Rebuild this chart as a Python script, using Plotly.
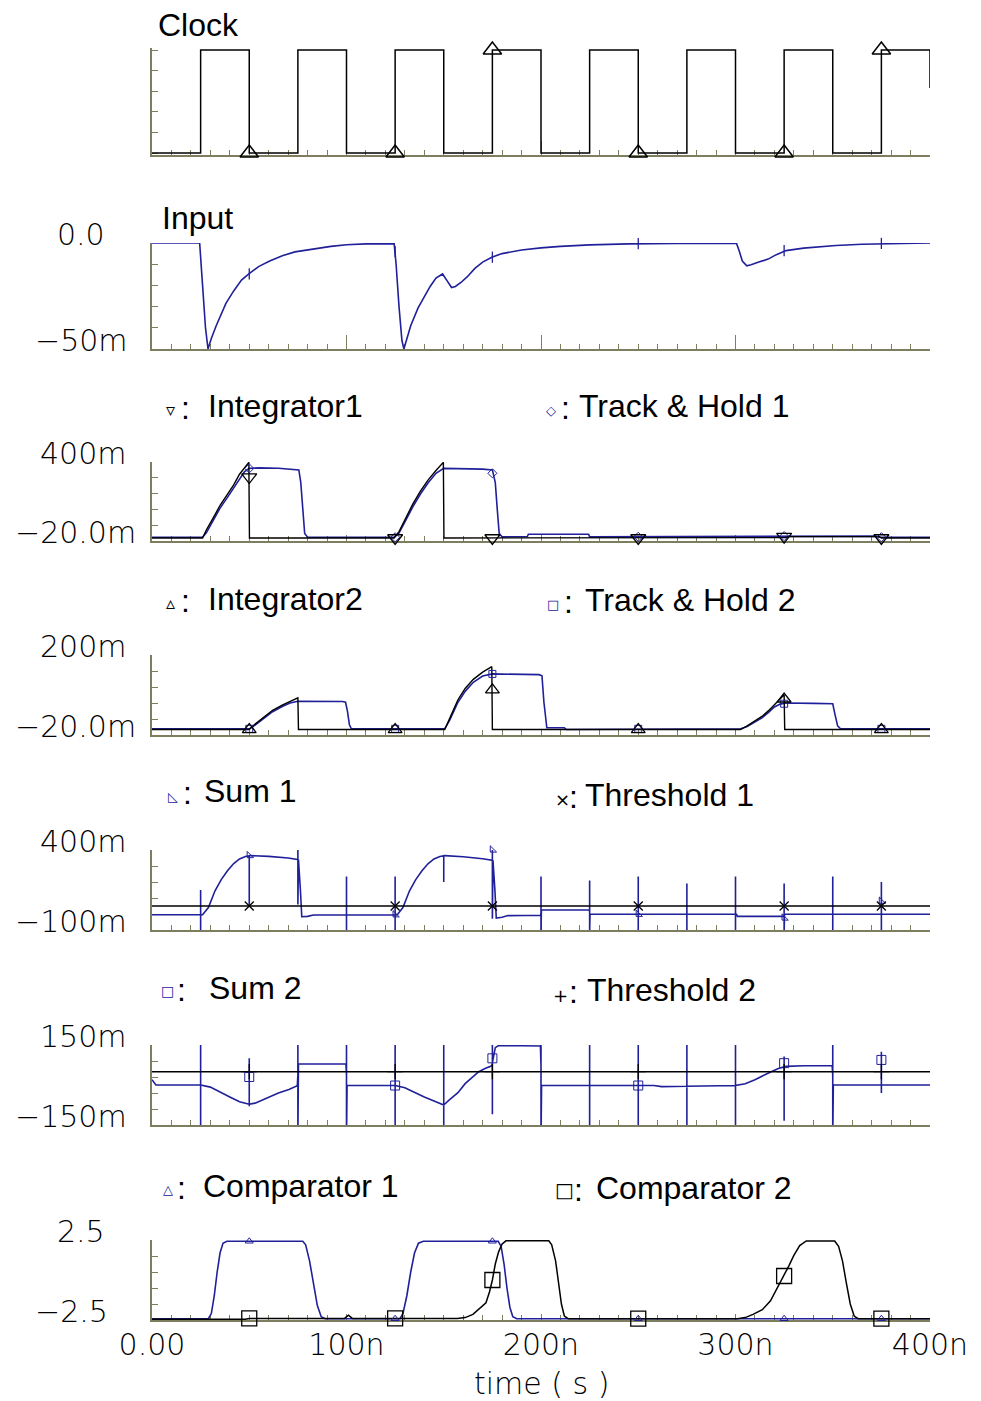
import numpy as np
import plotly.graph_objects as go

W, H = 981, 1401
X0, X1 = 152, 930          # plot area left/right in px
BLUE = "#20209a"
BLACK = "#000000"
AXIS = "#7d7d5f"

# time in ns, voltages in mV unless noted
mark_t = [50, 125, 175, 250, 325, 375]

# ---- Clock (V)
clock_t = [0, 25, 25, 50, 50, 75, 75, 100, 100, 125, 125, 150, 150, 175, 175, 200, 200,
           225, 225, 250, 250, 275, 275, 300, 300, 325, 325, 350, 350, 375, 375, 400, 400]
clock_v = [0, 0, 2.5, 2.5, 0, 0, 2.5, 2.5, 0, 0, 2.5, 2.5, 0, 0, 2.5, 2.5, 0,
           0, 2.5, 2.5, 0, 0, 2.5, 2.5, 0, 0, 2.5, 2.5, 0, 0, 2.5, 2.5, 1.58]
clock_mk = [0, 0, 2.5, 0, 0, 2.5]

# ---- Input
in_t = [0, 24.5, 26, 27.5, 28.8, 30.5, 33, 35.6, 38, 42, 46, 49.8, 55, 60.8, 67, 73.5, 83, 92,
        100, 110, 124.5, 125.5, 127, 128.5, 129.5, 131, 133, 136.8, 140, 143, 146, 149.4, 151.5,
        154, 156, 159, 162, 166, 170, 174.7, 180, 190, 200, 210, 225, 245, 270, 300.5, 302,
        303.5, 305.8, 308, 312, 316.8, 321, 326, 335, 351.6, 365, 380, 400]
in_v = [0, 0, -20, -40, -50, -45, -39, -33.8, -28.5, -22.6, -17.5, -14.6, -11, -8.4, -6, -4.2,
        -2.8, -1.6, -0.8, -0.4, -0.3, -10, -30, -46, -50, -45, -39, -30.6, -25, -20.5, -16.5,
        -14.6, -17.5, -21, -20.5, -18.5, -16, -12, -9, -6.7, -5, -3.3, -2.3, -1.6, -0.9, -0.4,
        -0.2, -0.1, -4, -8.5, -10.8, -10.3, -9, -7.6, -5.5, -3.6, -2.4, -1.2, -0.6, -0.2, 0]
in_mk = [-14.6, -4, -6.7, -0.3, -3.6, -0.2]

# ---- Integrator 1 / Track & Hold 1
i1_t = [0, 26, 28, 30, 32.4, 35, 38.8, 42, 45, 47.5, 49.8, 50.1, 124.5, 127, 129, 131, 134,
        138, 142, 146, 149.8, 150.1, 200, 225, 226, 300, 326, 327, 374, 375, 400]
i1_v = [-4, -4, 40, 80, 120, 170, 227, 278, 335, 370, 398, -4, -4, 30, 70, 115, 175, 245, 305,
        355, 398, -4, -4, -4, -2, -2, -2, 3, 3, -4, -4]
i1_mk = [320, -4, -4, -4, 3, -4]

th1_t = [0, 26, 28, 30, 32.4, 35, 38.8, 42, 45, 47.5, 50, 55, 65, 72, 75.5, 76.5, 77.5, 78.5,
         80, 124.5, 127, 129, 131, 134, 138, 142, 146, 150, 160, 170, 175, 176.5, 177.5, 178.5,
         180, 193, 193.5, 224.5, 225, 318, 320, 372, 374, 400]
th1_v = [0, 0, 25, 62, 105, 155, 212, 262, 315, 348, 366, 369, 367, 363, 358, 290, 150, 20, 0,
         0, 22, 58, 100, 160, 230, 290, 340, 366, 366, 362, 358, 290, 150, 20, 2, 4, 16, 16, 2,
         2, 6, 6, 0, 0]
th1_mk = [366, 0, 340, 2, 6, 0]

# ---- Integrator 2 / Track & Hold 2
i2_t = [0, 50, 53, 57.7, 62, 67.2, 71, 75, 75.3, 150.5, 153, 157.3, 161, 165.2, 170, 174.7,
        175, 302.6, 306, 310, 313.6, 317, 320, 323, 325, 325.3, 400]
i2_v = [-5, -5, 10, 31, 48, 63, 73, 82, -5, -5, 25, 77, 108, 133, 153, 168, -5, -5, 5, 18, 31,
        47, 63, 80, 91, -5, -5]
i2_mk = [-5, -5, 104, -5, 79, -5]

th2_t = [0, 50, 53, 57.7, 62, 67.2, 71, 75, 85, 98, 99.5, 100.5, 101.5, 102.5, 150.5, 153,
         157.3, 161, 165.2, 170, 175, 190, 199, 200.5, 201.5, 203, 212, 213, 240, 302.6, 306,
         310, 313.6, 317, 320, 323, 326, 340, 350, 351, 352.5, 354, 400]
th2_v = [-3, -3, 7, 27, 44, 59, 68, 73, 73, 72, 70, 45, 8, -3, -3, 20, 70, 100, 125, 142, 148,
         147, 146, 143, 70, 0, 0, -5, -5, -3, 3, 15, 27, 42, 57, 65, 68, 67, 66, 40, 5, -3, -3]
th2_mk = [-3, -3, 148, -3, 66, -3]

# ---- Sum 1 / Threshold 1
spk_t = [25, 50, 75, 100, 125, 150, 175, 200, 225, 250, 275, 300, 325, 350, 375]

s1_t = [0, 26, 29, 32.4, 35.6, 38.8, 42, 45, 48, 50.5, 60, 70, 75.3, 76.3, 77, 80, 83, 100, 126,
        129, 132.4, 135.6, 138.8, 142, 145, 148, 150.5, 160, 170, 175.3, 176.3, 177, 180, 183,
        199.8, 200.2, 224.8, 225.2, 300.5, 301, 324.5, 325.2, 400]
s1_v = [-5, -5, 40, 145, 215, 270, 315, 344, 360, 365, 360, 350, 340, 150, -17, -15, -6, -5, -6,
        40, 145, 215, 270, 315, 344, 360, 365, 358, 345, 335, 150, -25, -20, -10, -8, 25, 25,
        -2, -2, -15, -15, -2, -2]
s1_spk_hi = [150, 365, 405, 235, 235, 365, 440, 235, 210, 235, 190, 235, 190, 235, 200]
s1_spk_lo = [-120, 45, 60, -120, -120, 200, -30, -120, -120, -120, -120, -120, -120, -120, -120]
s1_mk = [365, -5, 400, -2, -25, 80]
thr1_v = [50, 50]
thr1_mk = [50, 50, 50, 50, 50, 50]

# ---- Sum 2 / Threshold 2
s2_t = [0, 2, 25, 30, 35.6, 40, 45, 48, 50, 53, 57, 60.9, 65, 70.4, 74.7, 75.3, 99.7, 100.3, 125,
        130, 135.6, 140, 145, 150, 153, 157.3, 161, 165, 168, 171.5, 174.7, 176.5, 178, 190,
        199.7, 200.3, 258, 262, 300, 305, 310, 317, 322, 326, 335, 349.7, 350.3, 400]
s2_v = [20, 0, 0, -8, -30, -45, -63, -70, -72, -68, -55, -41, -30, -16.5, -3, 79, 79, -2, -2,
        -10, -30, -45, -60, -75, -55, -29, 5, 32, 50, 63, 72, 140, 147, 147, 146, -2, -2, -6, -2,
        5, 20, 45, 62, 70, 72, 72, 0, 0]
s2_spk_hi = [200, 100, 200, 200, 200, 200, 150, 200, 200, 200, 200, 200, 107, 200, 125]
s2_spk_lo = [-200, -80, -200, -200, -200, -200, -110, -200, -200, -200, -200, -200, -134, -200, -30]
s2_mk = [30, -2, 100, -2, 82, 94]
thr2_v = [50, 50]
thr2_mk = [50, 50, 50, 50, 50, 50]

# ---- Comparators (V)
c1_t = [0, 29, 30.5, 32, 33.5, 35, 36.5, 38.5, 77.5, 79, 81, 83, 85, 87, 89, 127.5, 129, 131,
        133, 135, 137, 139.5, 178, 179.5, 181, 182.5, 184, 185.5, 187.5, 400]
c1_v = [-2.42, -2.42, -2.1, -1.0, 0.5, 1.7, 2.3, 2.42, 2.42, 2.2, 1.2, -0.3, -1.6, -2.3, -2.42,
        -2.42, -2.1, -1.0, 0.5, 1.7, 2.3, 2.42, 2.42, 2.1, 1.0, -0.5, -1.7, -2.3, -2.42, -2.42]
c1_mk = [2.42, -2.42, 2.42, -2.42, -2.42, -2.42]

c2_t = [0, 48, 50, 99, 101, 103, 157, 161, 165, 168.5, 171.7, 173.5, 175, 176.5, 178.2, 180,
        182, 204, 205.5, 207.5, 209, 210.5, 212, 214, 301, 305, 309, 313.8, 318, 322, 325, 327.5,
        330, 333, 336.4, 351, 353, 355, 357, 359, 361, 363, 400]
c2_v = [-2.45, -2.45, -2.4, -2.4, -2.2, -2.4, -2.4, -2.35, -2.15, -1.8, -1.42, -0.75, 0.0, 1.0,
        1.76, 2.25, 2.45, 2.45, 2.2, 1.2, -0.2, -1.5, -2.25, -2.42, -2.42, -2.35, -2.15, -1.86,
        -1.3, -0.4, 0.25, 0.9, 1.54, 2.15, 2.44, 2.44, 2.1, 1.2, -0.2, -1.5, -2.25, -2.42, -2.42]
c2_mk = [-2.4, -2.4, 0.0, -2.42, 0.25, -2.42]


def with_spikes(t, v, st, hi, lo):
    # insert the switching glitches (vertical spikes) into a waveform
    t = np.asarray(t, float)
    v = np.asarray(v, float)
    out_t, out_v = [], []
    i = 0
    for s, h, l in zip(st, hi, lo):
        while i < len(t) and t[i] < s:
            out_t.append(t[i]); out_v.append(v[i]); i += 1
        b = float(np.interp(s, t, v))
        out_t += [s, s, s, s]
        out_v += [b, h, l, b]
    out_t += list(t[i:]); out_v += list(v[i:])
    return out_t, out_v


fig = go.Figure()

TICKFONT = dict(family="DejaVu Sans", size=30, color="black", weight=200)

# panel geometry (px top, px bottom), y range, end ticks, end labels, label left px
panels = [
    (50, 153, [-0.04, 2.54], [0, 2.5], ["", ""], [0, 0]),
    (243, 349, [-50, 0], [-50, 0], ["\u221250m", "0.0"], [33, 55]),
    (462, 541, [-20, 400], [-20, 400], ["\u221220.0m", "400m"], [13, 38]),
    (655, 735, [-20, 200], [-20, 200], ["\u221220.0m", "200m"], [13, 38]),
    (850, 930, [-100, 400], [-100, 400], ["\u2212100m", "400m"], [13, 38]),
    (1045, 1125, [-150, 150], [-150, 150], ["\u2212150m", "150m"], [13, 38]),
    (1240, 1320, [-2.5, 2.5], [-2.5, 2.5], ["\u22122.5", "2.5"], [33, 55]),
]

for k, (top, bot, rng, tk, tt, lx) in enumerate(panels, start=1):
    sfx = "" if k == 1 else str(k)
    if k == 1:
        # padded range: map the 0..2.5 interval onto top..bot
        pxv = (bot - top) / (tk[1] - tk[0])
        dtop = top - (rng[1] - tk[1]) * pxv
        dbot = bot + (tk[0] - rng[0]) * pxv
    else:
        dtop, dbot = top, bot
    tv = list(np.linspace(tk[0], tk[1], 6))
    fig.layout["yaxis" + sfx] = dict(
        domain=[1 - dbot / H, 1 - dtop / H], range=rng, anchor="x" + sfx, automargin=False,
        showline=True, linecolor=AXIS, linewidth=1.5, ticks="inside", ticklen=6,
        tickcolor=AXIS, tickwidth=1.2, tickmode="array", tickvals=tv, showticklabels=False,
        showgrid=False, zeroline=False, layer="below traces", fixedrange=True)
    fig.layout["xaxis" + sfx] = dict(
        domain=[X0 / W, X1 / W], range=[0, 400], anchor="y" + sfx, automargin=False,
        showline=True, linecolor=AXIS, linewidth=2, ticks="inside",
        ticklen=14 if k <= 2 else 6, tickcolor=AXIS, tickwidth=1.2,
        tickmode="array", tickvals=[0, 100, 200, 300, 400],
        ticktext=["0.00", "100n", "200n", "300n", "400n"],
        showticklabels=(k == 7), ticklabelstandoff=-3, tickfont=TICKFONT,
        minor=dict(ticks="inside", tickmode="linear", tick0=0, dtick=10, ticklen=5,
                   tickcolor=AXIS, tickwidth=1.2),
        showgrid=False, zeroline=False, layer="below traces", fixedrange=True)
    # end-of-axis value labels, baseline sitting on the tick
    for val, lab, x in zip(tk, tt, lx):
        if lab:
            fig.add_annotation(text=lab, x=x / W, xref="paper", y=val, yref="y" + sfx,
                               xanchor="left", yanchor="bottom", yshift=-11,
                               showarrow=False, font=TICKFONT)


def line(k, t, v, color, width=1.5):
    sfx = "" if k == 1 else str(k)
    fig.add_trace(go.Scatter(x=t, y=v, mode="lines", xaxis="x" + sfx, yaxis="y" + sfx,
                             line=dict(color=color, width=width), hoverinfo="skip"))


def marks(k, v, symbol, color, size, width=1.3):
    sfx = "" if k == 1 else str(k)
    fig.add_trace(go.Scatter(x=mark_t, y=v, mode="markers", xaxis="x" + sfx, yaxis="y" + sfx,
                             cliponaxis=False, hoverinfo="skip",
                             marker=dict(symbol=symbol, size=size, color=color,
                                         line=dict(color=color, width=width))))


line(1, clock_t, clock_v, BLACK, 1.5)
marks(1, clock_mk, "triangle-up-open", BLACK, 16, 1.5)

line(2, in_t, in_v, BLUE, 1.6)
marks(2, in_mk, "line-ns-open", BLUE, 8)

line(3, th1_t, th1_v, BLUE, 1.6)
line(3, i1_t, i1_v, BLACK, 1.4)
marks(3, th1_mk, "diamond-open", BLUE, 7, 1)
marks(3, i1_mk, "triangle-down-open", BLACK, 13)

line(4, th2_t, th2_v, BLUE, 1.6)
line(4, i2_t, i2_v, BLACK, 1.4)
marks(4, th2_mk, "square-open", BLUE, 7, 1)
marks(4, i2_mk, "triangle-up-open", BLACK, 12)

st, sv = with_spikes(s1_t, s1_v, spk_t, s1_spk_hi, s1_spk_lo)
line(5, st, sv, BLUE, 1.6)
line(5, [0, 400], thr1_v, BLACK, 1.5)
marks(5, s1_mk, "triangle-sw-open", BLUE, 7, 1)
marks(5, thr1_mk, "x-thin-open", BLACK, 9)

st, sv = with_spikes(s2_t, s2_v, spk_t, s2_spk_hi, s2_spk_lo)
line(6, st, sv, BLUE, 1.6)
line(6, [0, 400], thr2_v, BLACK, 1.5)
marks(6, s2_mk, "square-open", BLUE, 9, 1)
marks(6, thr2_mk, "cross-thin-open", BLACK, 11)

line(7, c1_t, c1_v, BLUE, 1.6)
line(7, c2_t, c2_v, BLACK, 1.5)
marks(7, c1_mk, "triangle-up-open", BLUE, 7, 1)
marks(7, c2_mk, "square-open", BLACK, 15)


def txt(s, x, y, size=32, color="black", anchor="left", family="Liberation Sans", weight=None):
    f = dict(family=family, size=size, color=color)
    if weight:
        f["weight"] = weight
    fig.add_annotation(text=s, x=x / W, y=1 - y / H, xref="paper", yref="paper",
                       showarrow=False, xanchor=anchor, yanchor="middle", font=f)


txt("Clock", 156, 25)
txt("Input", 160, 218)

# (symbol, colour, size, symbol x, symbol y, colon x, name, name x, name y)
labels = [
    ("\u25bf", BLACK, 18, 170, 409, 185, "Integrator1", 206, 406),
    ("\u25c7", BLUE, 13, 551, 410, 565, "Track &amp; Hold 1", 577, 406),
    ("\u25b5", BLACK, 18, 170, 602, 185, "Integrator2", 206, 599),
    ("\u25a1", BLUE, 13, 553, 604, 568, "Track &amp; Hold 2", 583, 600),
    ("\u25fa", BLUE, 13, 173, 796, 187, "Sum 1", 202, 791),
    ("\u00d7", BLACK, 18, 562, 799, 573, "Threshold 1", 583, 795),
    ("\u25a1", BLUE, 14, 167, 991, 181, "Sum 2", 207, 988),
    ("+", BLACK, 18, 560, 995, 573, "Threshold 2", 585, 990),
    ("\u25b3", BLUE, 13, 168, 1189, 181, "Comparator 1", 201, 1186),
    ("\u25a1", BLACK, 20, 564, 1190, 578, "Comparator 2", 594, 1188),
]
for sym, col, sz, sx, sy, cx, name, tx, ty in labels:
    txt(sym, sx, sy, size=sz, color=col, anchor="center", family="DejaVu Sans")
    txt(":", cx, ty + 2, anchor="center")
    txt(name, tx, ty)

txt("time ( s )", 541, 1383, size=30, anchor="center", family="DejaVu Sans", weight=200)

fig.update_layout(width=W, height=H, margin=dict(l=0, r=0, t=0, b=0, autoexpand=False),
                  paper_bgcolor="white", plot_bgcolor="white", showlegend=False,
                  font=dict(family="Liberation Sans", color="black"))

# the page body has a default 8px margin; drop it so the figure sits at the origin
fig.write_html("out.html", config={"displayModeBar": False},
               post_script="document.body.style.margin = '0px';")
